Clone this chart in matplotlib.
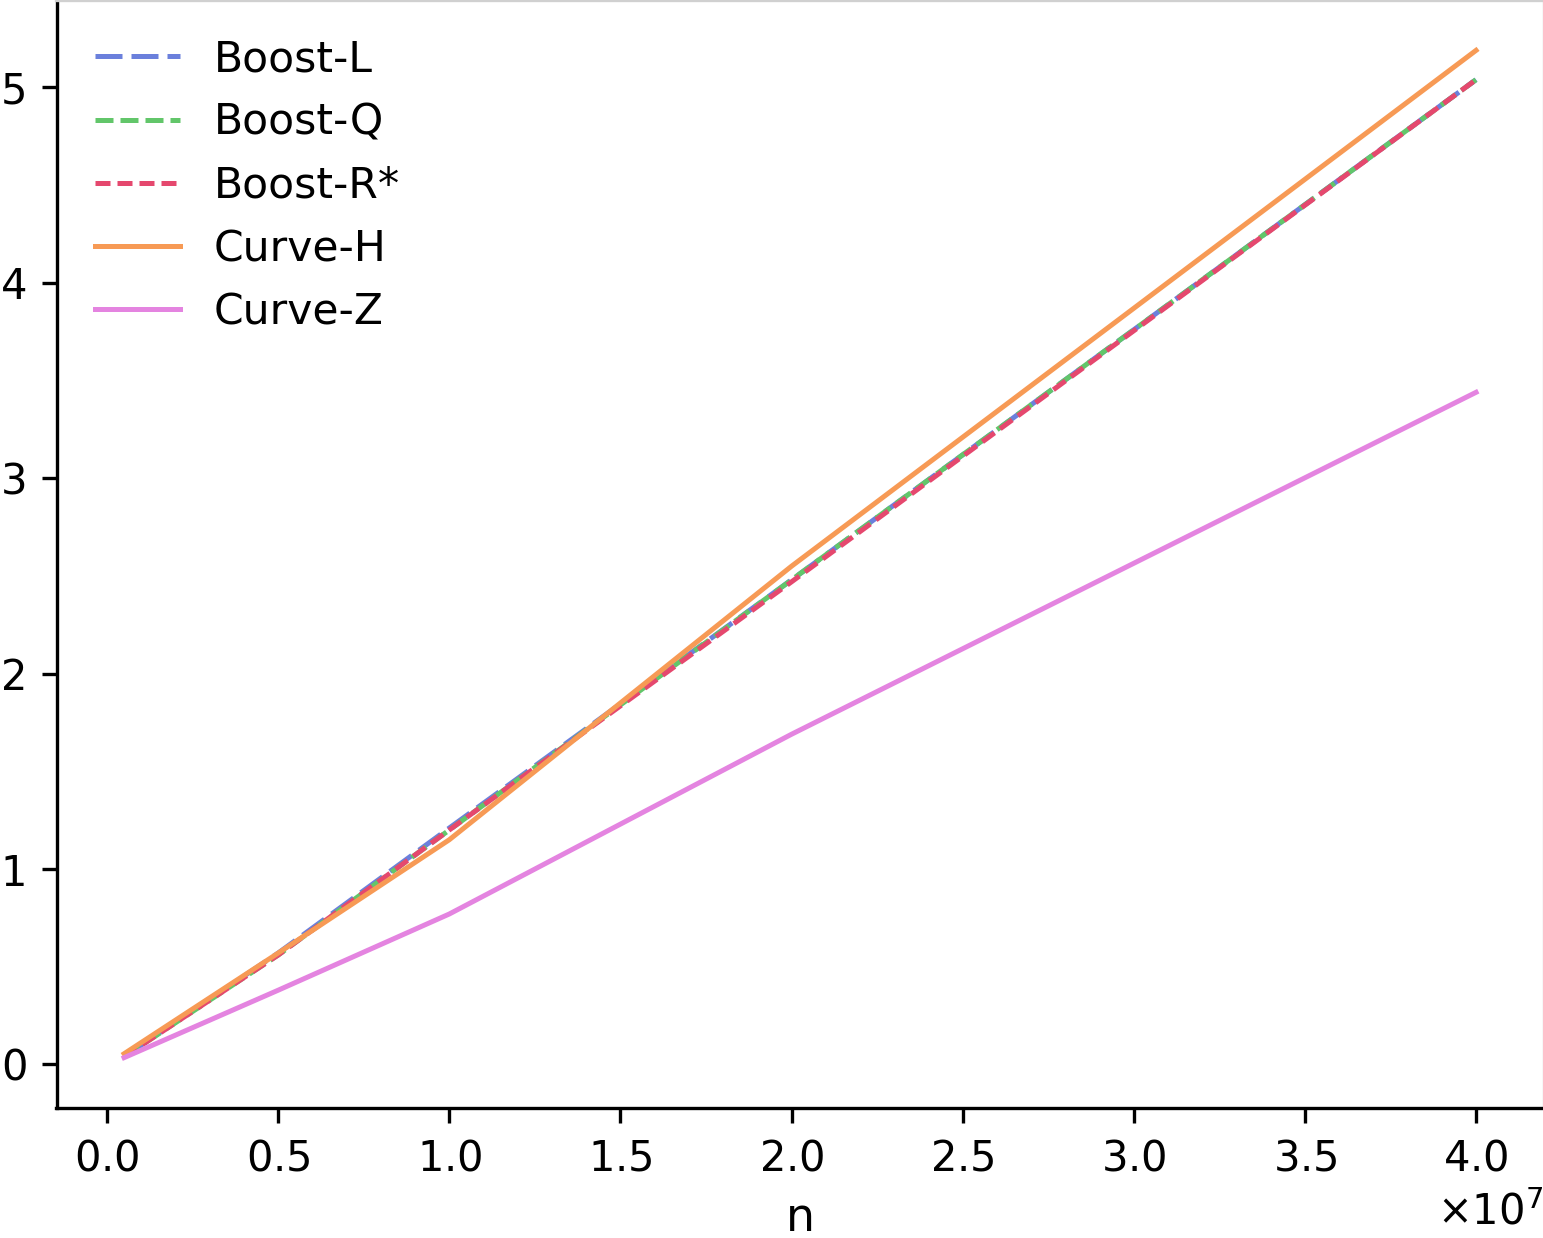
import matplotlib
matplotlib.use("Agg")
import matplotlib.pyplot as plt

# problem sizes
n = [5e5, 5e6, 1e7, 2e7, 4e7]

boost_l = [0.04, 0.57, 1.21, 2.48, 5.04]
boost_q = [0.04, 0.56, 1.20, 2.48, 5.04]
boost_r = [0.04, 0.56, 1.20, 2.47, 5.04]
curve_h = [0.055, 0.57, 1.15, 2.55, 5.19]
curve_z = [0.035, 0.38, 0.77, 1.69, 3.44]

fig = plt.figure(figsize=(1543 / 300, 1238 / 300), dpi=300)
ax = fig.add_axes([56.5 / 1543, 0.105, 0.9638, 0.895])

lw = 1.2
ax.plot(n, boost_l, color="#6b80dc", lw=lw, ls=(0, (5.4, 1.8)), label="Boost-L")
ax.plot(n, boost_q, color="#62c66a", lw=lw, ls=(0, (3.6, 1.4)), label="Boost-Q")
ax.plot(n, boost_r, color="#e5486e", lw=lw, ls=(0, (3.0, 1.4)), label="Boost-R*")
ax.plot(n, curve_h, color="#f79a55", lw=lw, label="Curve-H")
ax.plot(n, curve_z, color="#e484e0", lw=lw, label="Curve-Z")

ax.set_xlabel("n", fontsize=11, labelpad=4)
ax.tick_params(labelsize=10)
ax.ticklabel_format(axis="x", style="sci", scilimits=(0, 0), useMathText=True)
ax.xaxis.get_offset_text().set_fontsize(10)

for s in ["top", "right"]:
    ax.spines[s].set_color("#d0d0d0")

ax.legend(loc="upper left", frameon=False, fontsize=10.2, handlelength=2.0)

fig.savefig("out.png", dpi=300)
